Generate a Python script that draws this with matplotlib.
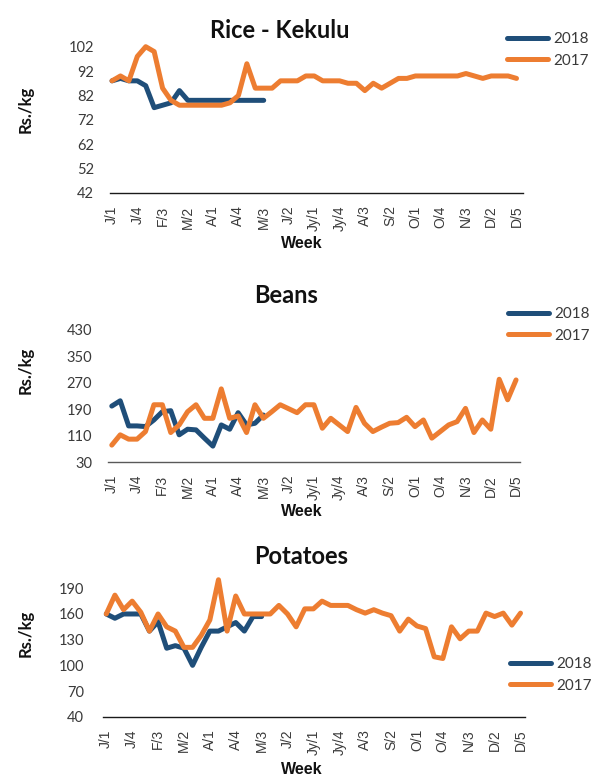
import matplotlib
matplotlib.use("Agg")
import matplotlib.pyplot as plt

# Week labels: month initial / week of month (December has five weeks)
weeks = ["J/1", "J/2", "J/3", "J/4", "F/1", "F/2", "F/3", "F/4",
         "M/1", "M/2", "M/3", "M/4", "A/1", "A/2", "A/3", "A/4",
         "M/1", "M/2", "M/3", "M/4", "J/1", "J/2", "J/3", "J/4",
         "Jy/1", "Jy/2", "Jy/3", "Jy/4", "A/1", "A/2", "A/3", "A/4",
         "S/1", "S/2", "S/3", "S/4", "O/1", "O/2", "O/3", "O/4",
         "N/1", "N/2", "N/3", "N/4", "D/1", "D/2", "D/3", "D/4", "D/5"]

# Weekly retail prices (Rs./kg)
rice_2018 = [88, 89, 88, 88, 86, 77, 78, 79, 84, 80, 80, 80, 80, 80, 80, 80, 80, 80, 80]
rice_2017 = [88, 90, 88, 98, 102, 100, 85, 80, 78, 78, 78, 78, 78, 78, 79, 82, 95, 85,
             85, 85, 88, 88, 88, 90, 90, 88, 88, 88, 87, 87, 84, 87, 85, 87, 89, 89,
             90, 90, 90, 90, 90, 90, 91, 90, 89, 90, 90, 90, 89]

beans_2018 = [200, 216, 140, 140, 138, 158, 183, 186, 113, 130, 128, 103, 79, 143, 130,
              180, 143, 148, 173]
beans_2017 = [82, 113, 100, 100, 123, 204, 204, 120, 143, 183, 204, 163, 163, 252, 163,
              170, 120, 204, 163, 183, 204, 192, 180, 204, 204, 133, 163, 143, 123, 196,
              148, 123, 136, 148, 150, 166, 138, 158, 103, 123, 143, 153, 193, 120, 158,
              130, 281, 219, 279]

potatoes_2018 = [160, 155, 160, 160, 160, 140, 151, 120, 123, 120, 100, 121, 140, 140,
                 145, 150, 140, 157, 157]
potatoes_2017 = [160, 182, 165, 175, 162, 140, 160, 145, 140, 121, 121, 135, 153, 200,
                 140, 181, 160, 160, 160, 160, 170, 160, 145, 166, 166, 175, 170, 170,
                 170, 165, 161, 165, 161, 158, 140, 154, 146, 143, 110, 108, 145, 131,
                 140, 140, 161, 157, 161, 147, 161]

rice_ticks = [42, 52, 62, 72, 82, 92, 102]
beans_ticks = [30, 110, 190, 270, 350, 430]
potato_ticks = [40, 70, 100, 130, 160, 190]

BLUE = "#1F4E79"
ORANGE = "#ED7D31"
TXT = "#3a3a3a"
W, H = 592, 777

fig = plt.figure(figsize=(W / 100, H / 100), dpi=100)


def px_box(left, right, bottom, top):
    return [left / W, 1 - bottom / H, (right - left) / W, (bottom - top) / H]


panels = [
    dict(title="Rice - Kekulu", box=(110, 523, 193, 46.7), xlim=(-0.24, 48.77),
         ticks=rice_ticks, s18=rice_2018, s17=rice_2017, spine="#1a1a1a",
         title_xy=(280, 31), ylab_y=109, week_y=243, leg_y=49.7, leg_x=507, ypad=11.5),
    dict(title="Beans", box=(108, 520, 462.3, 330), xlim=(-0.45, 48.47),
         ticks=beans_ticks, s18=beans_2018, s17=beans_2017, spine="#595959",
         title_xy=(286, 295), ylab_y=370, week_y=512, leg_y=325, leg_x=508, ypad=11.5),
    dict(title="Potatoes", box=(103, 525, 716.7, 588.3), xlim=(-0.38, 48.52),
         ticks=potato_ticks, s18=potatoes_2018, s17=potatoes_2017, spine="#1a1a1a",
         title_xy=(301, 556), ylab_y=633, week_y=770, leg_y=675, leg_x=510, ypad=13.5),
]

xs = list(range(len(weeks)))
tick_idx = list(range(0, len(weeks), 3))

for p in panels:
    ax = fig.add_axes(px_box(*p["box"]))
    l18, = ax.plot(xs[:len(p["s18"])], p["s18"], color=BLUE, lw=3.6,
                   solid_capstyle="round", solid_joinstyle="round", clip_on=False,
                   zorder=3)
    l17, = ax.plot(xs[:len(p["s17"])], p["s17"], color=ORANGE, lw=3.6,
                   solid_capstyle="round", solid_joinstyle="round", clip_on=False,
                   zorder=4)
    ax.set_xlim(*p["xlim"])
    ax.set_ylim(p["ticks"][0], p["ticks"][-1])
    ax.set_yticks(p["ticks"])
    ax.set_yticklabels([str(t) for t in p["ticks"]], fontfamily="Lato",
                       fontsize=10.5, color=TXT)
    ax.set_xticks(tick_idx)
    ax.set_xticklabels([weeks[i] for i in tick_idx], rotation=90,
                       fontfamily="Liberation Sans", fontsize=10, color=TXT)
    ax.tick_params(axis="x", length=0, pad=9)
    ax.tick_params(axis="y", length=0, pad=p["ypad"])
    for s in ("top", "right", "left"):
        ax.spines[s].set_visible(False)
    ax.spines["bottom"].set_color(p["spine"])
    ax.spines["bottom"].set_linewidth(1.0)
    ax.patch.set_alpha(0)

    tx, ty = p["title_xy"]
    fig.text(tx / W, 1 - ty / H, p["title"], ha="center", va="center",
             fontfamily="Lato", fontweight="bold", fontsize=17, color="#111111")
    fig.text(26 / W, 1 - p["ylab_y"] / H, "Rs./kg", rotation=90, ha="center",
             va="center", fontfamily="Lato", fontweight="bold", fontsize=12,
             color="#111111")
    fig.text(302 / W, 1 - p["week_y"] / H, "Week", ha="center", va="center",
             fontfamily="Liberation Sans", fontweight="bold", fontsize=11.5,
             color="#111111")
    fig.legend([l18, l17], ["2018", "2017"], loc="center left",
               bbox_to_anchor=(p["leg_x"] / W, 1 - p["leg_y"] / H),
               frameon=False, borderpad=0, borderaxespad=0,
               handlelength=2.7, handletextpad=0.3, labelspacing=0.5,
               prop={"family": "Lato", "size": 11}, labelcolor=TXT)

fig.savefig("out.png", dpi=100)
